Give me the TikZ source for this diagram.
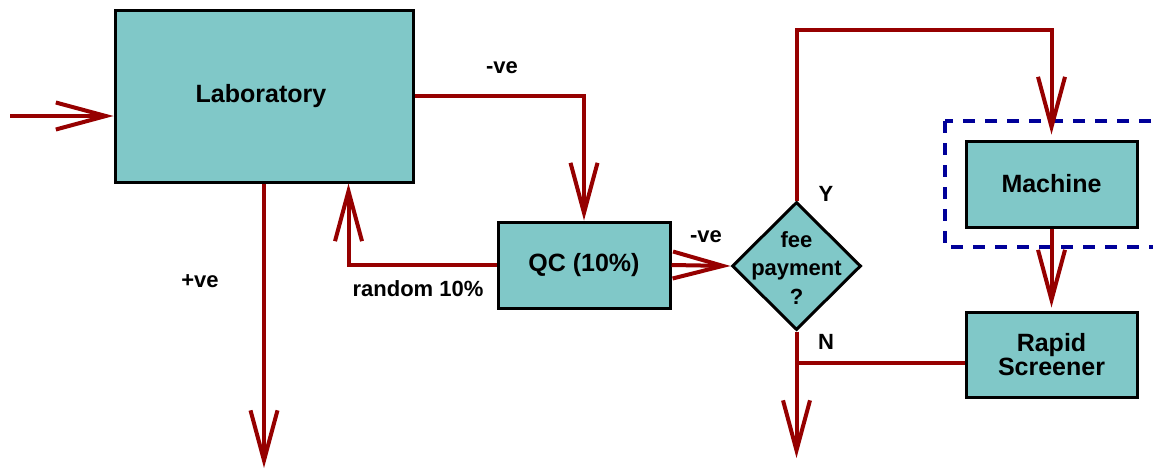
\documentclass[tikz,border=0pt]{standalone}
\usepackage{fontspec}
\setmainfont{Liberation Sans}
\usetikzlibrary{arrows.meta,shapes.geometric}
\definecolor{boxfill}{RGB}{128,200,200}
\definecolor{flowred}{RGB}{150,0,0}
\definecolor{groupblue}{RGB}{0,0,153}

\begin{document}
\begin{tikzpicture}[x=1pt,y=-1pt,
  box/.style={draw=black, line width=3pt, fill=boxfill, inner sep=0pt,
    font=\bfseries\fontsize{25}{30}\selectfont, align=center},
  decision/.style={diamond, draw=black, line width=3pt, fill=boxfill, inner sep=0pt},
  flow/.style={draw=flowred, line width=4pt, -{Straight Barb[length=50pt,width=27pt]}},
  plainflow/.style={draw=flowred, line width=4pt},
  lbl/.style={font=\bfseries\fontsize{22}{26}\selectfont, inner sep=0pt, align=center}]

\path[use as bounding box] (0,0) rectangle (1153,472);

% group frame around the machine
\draw[groupblue, line width=4pt, dash pattern=on 12pt off 10pt] (945,121) rectangle (1175,247);

% process boxes
\node[box, minimum width=298pt, minimum height=172pt] (lab) at (264,96) {\hspace*{-6pt}Laboratory};
\node[box, minimum width=172pt, minimum height=86pt] (qc) at (584,265) {QC (10\%)};
\node[box, minimum width=171pt, minimum height=86pt] (mach) at (1051.5,184) {Machine};
\node[box, minimum width=171pt, minimum height=85pt,
  font=\bfseries\fontsize{25}{23.5}\selectfont] (rapid) at (1051.5,354.5) {Rapid\\Screener};

% decision
\node[decision, minimum width=129pt, minimum height=128pt] (fee) at (796.5,266) {};
\node[lbl, font=\bfseries\fontsize{22}{28.5}\selectfont] (feetext) at (796.5,268) {fee\\payment\\?};

% free ends
\coordinate (in) at (10,116);
\coordinate (labout) at (264,468);
\coordinate (feeout) at (796.5,458);
\coordinate (join) at (796.5,363);

% connectors
\draw[flow] (in) -- (lab.west |- in);
\draw[flow] (lab.east) -| (qc.north);
\draw[flow] (lab.south) -- (labout);
\draw[flow] (qc.west) -| ([xshift=235pt]lab.south west);
\draw[flow] (qc.east) -- (fee.west);
\draw[flow, shorten >=5pt] (fee.north) -- ++(0,-171) -| (mach.north);
\draw[flow, shorten >=3pt] (mach.south) -- (rapid.north);
\draw[plainflow] (rapid.west |- join) -- (join);
\draw[flow] (fee.south) -- (feeout);

% labels
\node[lbl] (l1) at (502,68) {-ve};
\node[lbl] (l2) at (706,237) {-ve};
\node[lbl] (l3) at (200,281) {+ve};
\node[lbl] (l4) at (418,289) {random 10\%};
\node[lbl] (l5) at (826,194) {Y};
\node[lbl] (l6) at (826,342) {N};
\end{tikzpicture}
\end{document}
